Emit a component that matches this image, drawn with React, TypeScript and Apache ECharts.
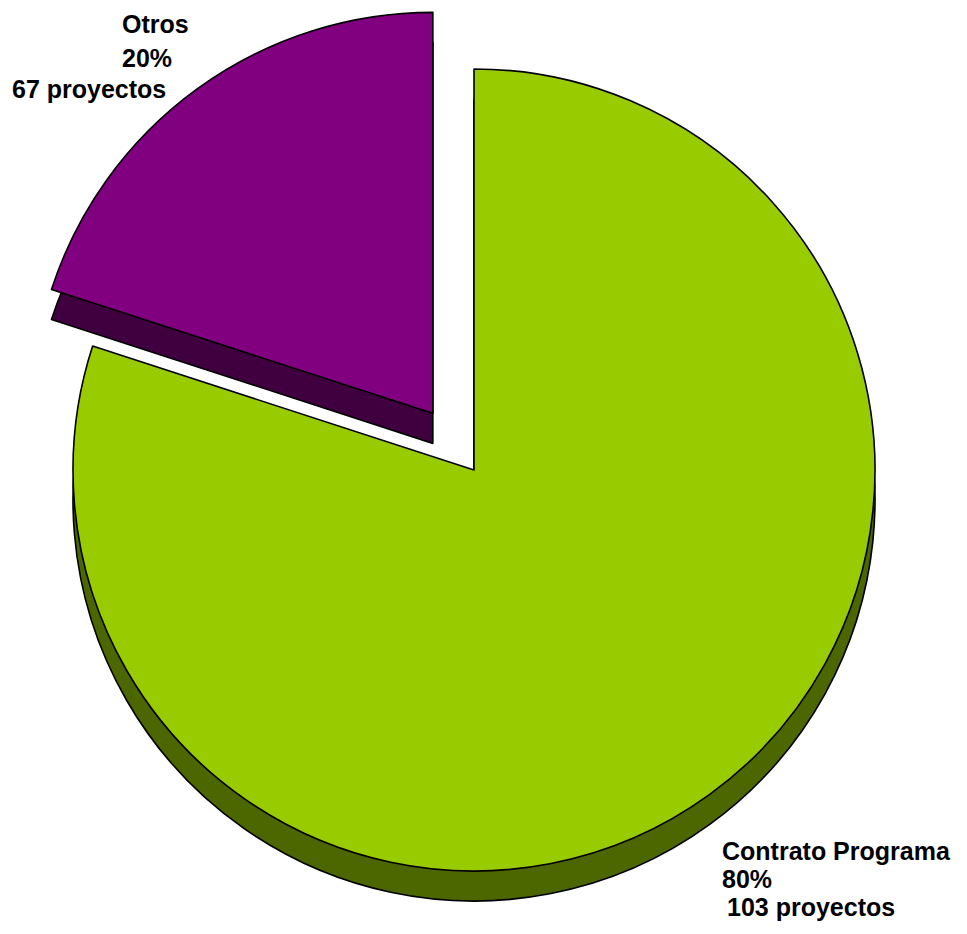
import React, { useEffect, useRef } from "react";
import * as echarts from "echarts";

const categories = ["Contrato Programa", "Otros"];
const percents = [80, 20];
const projects = [103, 67];
const topColors = ["#99CC00", "#800080"];
const sideColors = ["#4C6600", "#400040"];

// label placement: [x, yMiddle of each line]
const labelPos = [
  { lines: [[722, 851], [722, 879], [727, 907]] },
  { lines: [[122, 24], [122, 58], [12, 89]] },
];

export default function App() {
  const ref = useRef<HTMLDivElement>(null);
  useEffect(() => {
    if (!ref.current) return;
    const chart = echarts.init(ref.current, undefined, { renderer: "svg" });
    const cx = 474;
    const cy = 470;
    const depth = 30;
    const R = 401;

    const mkData = (colors: string[]) =>
      categories.map((c, i) => ({
        name: c,
        value: percents[i],
        selected: i === 1,
        itemStyle: { color: colors[i] },
      }));

    const common = {
      type: "pie" as const,
      radius: [0, R],
      startAngle: 90,
      clockwise: true,
      selectedMode: "single" as const,
      selectedOffset: 70,
      avoidLabelOverlap: false,
      label: { show: false },
      labelLine: { show: false },
      emphasis: { disabled: true },
      silent: true,
      itemStyle: { borderColor: "#000", borderWidth: 1.6 },
    };

    const graphics: any[] = [];
    categories.forEach((c, i) => {
      const texts = [c, `${percents[i]}%`, `${projects[i]} proyectos`];
      texts.forEach((t, j) => {
        const [x, y] = labelPos[i].lines[j];
        graphics.push({
          type: "text",
          x,
          y,
          style: {
            text: t,
            fill: "#000",
            font: 'bold 25px "Liberation Sans", Arial, sans-serif',
            textAlign: "left",
            textVerticalAlign: "middle",
          },
        });
      });
    });

    chart.setOption({
      animation: false,
      backgroundColor: "#fff",
      series: [
        { ...common, z: 1, center: [cx, cy + depth], data: mkData(sideColors) },
        { ...common, z: 2, center: [cx, cy], data: mkData(topColors) },
      ],
      graphic: graphics,
    });
    return () => chart.dispose();
  }, []);
  return (
    <div
      ref={ref}
      style={{ position: "fixed", left: 0, top: 0, width: 967, height: 934 }}
    />
  );
}
